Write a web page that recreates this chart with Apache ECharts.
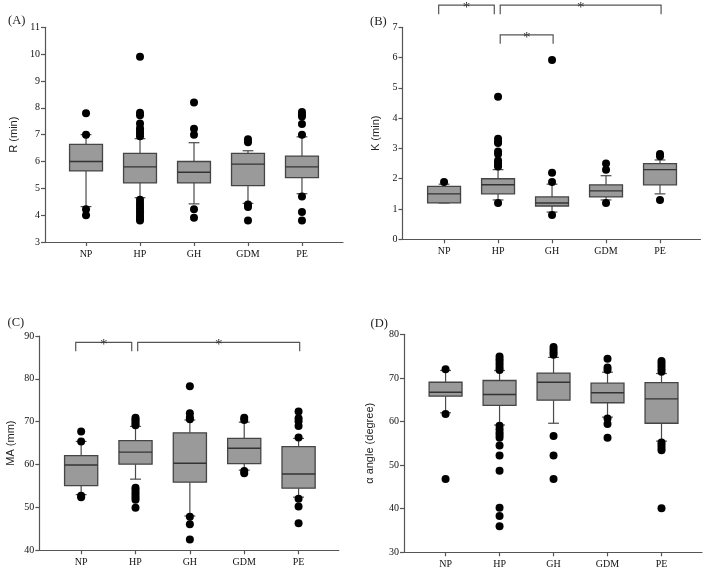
<!DOCTYPE html>
<html><head><meta charset="utf-8">
<script src="https://cdn.jsdelivr.net/npm/echarts@6/dist/echarts.min.js"></script>
<style>html,body{margin:0;padding:0;background:#fff}#c{width:709px;height:572px}</style>
</head><body><div id="c"></div>
<script>
const groups = ['NP', 'HP', 'GH', 'GDM', 'PE'];

// Panel A: R (min) — [whiskerLow, Q1, median, Q3, whiskerHigh]
const boxA = [
  [4.32, 5.65, 6.0, 6.64, 7.0],
  [4.65, 5.2, 5.8, 6.3, 6.85],
  [4.42, 5.2, 5.6, 6.0, 6.7],
  [4.44, 5.1, 5.9, 6.3, 6.4],
  [4.8, 5.4, 5.8, 6.2, 6.92]
];
const outA = [
  [7.8, 7.0, 4.22, 4.0],
  [9.9, 7.82, 7.72, 7.42, 7.24, 7.14, 7.04, 6.94, 4.57, 4.45, 4.35, 4.25, 4.15, 4.05, 3.95, 3.87, 3.8],
  [8.2, 7.22, 7.0, 4.22, 3.9],
  [6.83, 6.72, 4.4, 4.3, 3.8],
  [7.84, 7.75, 7.68, 7.4, 7.0, 4.7, 4.12, 3.8]
];

// Panel B: K (min)
const boxB = [
  [1.2, 1.2, 1.5, 1.75, 1.82],
  [1.3, 1.5, 1.8, 2.0, 2.3],
  [0.9, 1.1, 1.2, 1.4, 1.82],
  [1.3, 1.4, 1.6, 1.8, 2.1],
  [1.5, 1.8, 2.3, 2.5, 2.62]
];
const outB = [
  [1.89],
  [4.71, 3.32, 3.22, 3.18, 2.9, 2.82, 2.6, 2.52, 2.45, 2.4, 1.2],
  [5.92, 2.2, 1.89, 0.8],
  [2.5, 2.3, 1.2],
  [2.82, 2.74, 1.3]
];
const sigB = [[0, 1, 7.73], [1, 4, 7.73], [1, 2, 6.75]];

// Panel C: MA (mm)
const boxC = [
  [53.0, 55.1, 59.9, 62.1, 65.4],
  [56.6, 60.1, 62.9, 65.6, 68.9],
  [48.0, 55.9, 60.3, 67.4, 70.4],
  [58.7, 60.2, 63.8, 66.1, 69.9],
  [52.4, 54.5, 57.8, 64.2, 66.1]
];
const outC = [
  [67.7, 65.4, 52.7, 52.4],
  [70.9, 70.5, 70.1, 69.6, 69.2, 54.6, 54.1, 53.5, 52.9, 52.3, 51.8, 49.9],
  [78.3, 72.0, 71.0, 70.6, 47.8, 46.1, 42.5],
  [70.9, 70.4, 58.5, 58.0],
  [72.4, 70.8, 70.1, 69.0, 66.3, 52.0, 50.2, 46.3]
];
const sigC = [[0, 1, 88.53], [1, 4, 88.53]];

// Panel D: α angle (degree)
const boxD = [
  [62.0, 65.8, 66.7, 69.0, 71.7],
  [59.2, 63.7, 66.2, 69.4, 71.7],
  [59.6, 64.9, 69.0, 71.1, 74.7],
  [61.0, 64.3, 66.6, 68.8, 71.3],
  [55.5, 59.6, 65.2, 68.9, 71.0]
];
const outD = [
  [72.0, 61.7, 46.8],
  [74.9, 74.3, 73.7, 73.1, 72.4, 71.8, 59.0, 58.2, 57.5, 56.9, 56.3, 54.5, 52.2, 48.7, 40.2, 38.3, 36.0],
  [77.1, 76.5, 75.9, 75.3, 56.7, 52.2, 46.8],
  [74.4, 72.4, 71.8, 60.7, 59.4, 56.3],
  [73.9, 73.3, 72.7, 72.0, 71.4, 55.2, 54.6, 54.0, 53.4, 40.1]
];

const panelLetters = ['(A)', '(B)', '(C)', '(D)'];
const yNames = ['R (min)', 'K (min)', 'MA (mm)', 'α angle (degree)'];
const yRanges = [[3, 11, 1], [0, 7, 1], [40, 90, 10], [30, 80, 10]];

const SERIF = '"Liberation Serif", "Times New Roman", serif';
const SANS = '"Liberation Sans", Arial, sans-serif';
const AX = '#555';

const grids = [
  {left: 45, top: 27.3, width: 298, height: 214.7},
  {left: 402.5, top: 27.3, width: 298, height: 212},
  {left: 39.3, top: 336, width: 299.5, height: 214.3},
  {left: 404, top: 334.3, width: 298, height: 218}
];
const xRanges = [[-0.76, 4.76], [-0.77, 4.75], [-0.77, 4.74], [-0.77, 4.75]];
const nameGaps = [26, 21, 23, 29];

function boxRender(params, api) {
  const x = api.value(0);
  const pLo = api.coord([x, api.value(1)]);
  const pQ1 = api.coord([x, api.value(2)]);
  const pMed = api.coord([x, api.value(3)]);
  const pQ3 = api.coord([x, api.value(4)]);
  const pHi = api.coord([x, api.value(5)]);
  const bw = api.size([0.61, 0])[0];
  const cw = api.size([0.2, 0])[0];
  const cx = pMed[0];
  const ls = {stroke: '#4a4a4a', lineWidth: 1.2, fill: null};
  return {type: 'group', children: [
    {type: 'line', shape: {x1: cx, y1: pQ3[1], x2: cx, y2: pHi[1]}, style: ls},
    {type: 'line', shape: {x1: cx - cw / 2, y1: pHi[1], x2: cx + cw / 2, y2: pHi[1]}, style: ls},
    {type: 'line', shape: {x1: cx, y1: pQ1[1], x2: cx, y2: pLo[1]}, style: ls},
    {type: 'line', shape: {x1: cx - cw / 2, y1: pLo[1], x2: cx + cw / 2, y2: pLo[1]}, style: ls},
    {type: 'rect', shape: {x: cx - bw / 2, y: pQ3[1], width: bw, height: pQ1[1] - pQ3[1]},
      style: {fill: '#9a9a9a', stroke: '#454545', lineWidth: 1.3}},
    {type: 'line', shape: {x1: cx - bw / 2, y1: pMed[1], x2: cx + bw / 2, y2: pMed[1]},
      style: {stroke: '#333', lineWidth: 1.4}}
  ]};
}

function bracketRender(params, api) {
  const a = api.value(0), b = api.value(1), lv = api.value(2);
  const x1 = a + (a === 0 ? -0.1 : 0.04);
  const x2 = b + (b === 1 ? -0.07 : 0.02);
  const p1 = api.coord([x1, lv]);
  const p2 = api.coord([x2, lv]);
  const drop = 9;
  return {type: 'group', children: [
    {type: 'polyline', shape: {points: [[p1[0], p1[1] + drop], [p1[0], p1[1]], [p2[0], p2[1]], [p2[0], p2[1] + drop]]},
      style: {stroke: '#555', lineWidth: 1.2, fill: null}},
    {type: 'text', x: (p1[0] + p2[0]) / 2, y: p1[1] + 3,
      style: {text: '*', fill: '#333', font: '15px ' + SERIF, align: 'center', verticalAlign: 'middle'}}
  ]};
}

const boxes = [boxA, boxB, boxC, boxD];
const outs = [outA, outB, outC, outD];
const sigs = [null, sigB, sigC, null];

const option = {
  animation: false,
  backgroundColor: '#fff',
  title: panelLetters.map((t, i) => ({
    text: t,
    left: [3, 365, 2.5, 365.5][i],
    top: [9, 10, 311, 312][i],
    textStyle: {fontFamily: SERIF, fontSize: 12.5, fontWeight: 'normal', color: '#222'}
  })),
  grid: grids.map(g => Object.assign({outerBoundsMode: 'none', containLabel: false}, g)),
  xAxis: grids.map((g, i) => ({
    type: 'value', gridIndex: i, min: xRanges[i][0], max: xRanges[i][1],
    axisLine: {show: true, onZero: false, lineStyle: {color: AX, width: 1.2}},
    axisTick: {show: true, customValues: [0, 1, 2, 3, 4], length: 4, lineStyle: {color: AX, width: 1.2}},
    axisLabel: {customValues: [0, 1, 2, 3, 4], formatter: v => groups[Math.round(v)] || '',
      fontFamily: SERIF, fontSize: 10, color: '#111', margin: 7},
    splitLine: {show: false}
  })),
  yAxis: grids.map((g, i) => ({
    type: 'value', gridIndex: i, min: yRanges[i][0], max: yRanges[i][1], interval: yRanges[i][2],
    name: yNames[i], nameLocation: 'middle', nameGap: nameGaps[i],
    nameTextStyle: {fontFamily: SANS, fontSize: 11, color: '#222'},
    axisLine: {show: true, onZero: false, lineStyle: {color: AX, width: 1.2}},
    axisTick: {show: true, length: 4, lineStyle: {color: AX, width: 1.2}},
    axisLabel: {fontFamily: SERIF, fontSize: 10, color: '#111', margin: 5},
    splitLine: {show: false}
  })),
  series: []
};

boxes.forEach((bx, i) => {
  option.series.push({
    type: 'custom', xAxisIndex: i, yAxisIndex: i, renderItem: boxRender,
    encode: {x: 0, y: [1, 2, 3, 4, 5]},
    data: bx.map((b, k) => [k].concat(b)), z: 2
  });
  const pts = [];
  outs[i].forEach((arr, k) => arr.forEach(v => pts.push([k, v])));
  option.series.push({
    type: 'scatter', xAxisIndex: i, yAxisIndex: i, data: pts,
    symbol: 'circle', symbolSize: 8, itemStyle: {color: '#000', opacity: 1}, z: 5, silent: true
  });
  if (sigs[i]) {
    option.series.push({
      type: 'custom', xAxisIndex: i, yAxisIndex: i, renderItem: bracketRender,
      encode: {x: [0, 1], y: 2}, data: sigs[i], clip: false, z: 3
    });
  }
});

const chart = echarts.init(document.getElementById('c'), null, {renderer: 'canvas'});
chart.setOption(option);
</script>
</body></html>
